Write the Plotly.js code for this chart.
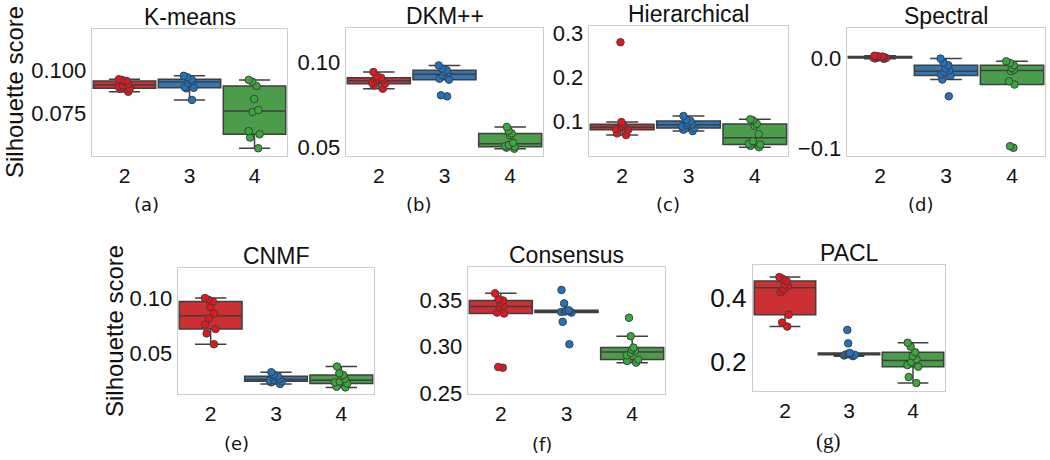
<!DOCTYPE html>
<html>
<head>
<meta charset="utf-8">
<script src="https://cdn.plot.ly/plotly-3.0.1.min.js"></script>
<style>
html,body{margin:0;padding:0;background:#fff;}
#chart{width:1050px;height:460px;}
</style>
</head>
<body>
<div id="chart"></div>
<script>
// ---------- data (silhouette scores per number of clusters) ----------
const clusterCounts = ['2', '3', '4'];
const panelTitles = ['K-means', 'DKM++', 'Hierarchical', 'Spectral', 'CNMF', 'Consensus', 'PACL'];
const panelLabels = ['(a)', '(b)', '(c)', '(d)', '(e)', '(f)', '(g)'];
const yTitle = 'Silhouette score';

const kmeans2 = [0.0946, 0.0942, 0.0936, 0.0934, 0.0916, 0.0910, 0.0903, 0.0893, 0.0890, 0.0873];
const kmeans3 = [0.0966, 0.0958, 0.0946, 0.0943, 0.0935, 0.0925, 0.0900, 0.0896, 0.0893, 0.0826];
const kmeans4 = [0.0942, 0.0932, 0.0907, 0.0831, 0.0767, 0.0756, 0.0645, 0.0626, 0.0607, 0.0545];

const dkm2 = [0.0941, 0.0916, 0.0908, 0.0898, 0.0892, 0.0888, 0.0878, 0.0872, 0.0862, 0.0843];
const dkm3 = [0.0980, 0.0961, 0.0951, 0.0941, 0.0935, 0.0922, 0.0902, 0.0896, 0.0804, 0.0798];
const dkm4 = [0.0618, 0.0595, 0.0580, 0.0570, 0.0525, 0.0512, 0.0506, 0.0502, 0.0496, 0.0490];

const hier2 = [0.2790, 0.0977, 0.0924, 0.0878, 0.0863, 0.0850, 0.0820, 0.0800, 0.0720, 0.0680];
const hier3 = [0.1114, 0.1030, 0.1000, 0.0954, 0.0920, 0.0910, 0.0878, 0.0840, 0.0802, 0.0771];
const hier4 = [0.1038, 0.1015, 0.0935, 0.0890, 0.0700, 0.0540, 0.0481, 0.0466, 0.0435, 0.0405];

const spec2 = [0.0025, 0.0020, 0.0015, 0.0012, 0.0010, 0.0005, 0.0003, 0.0000, -0.0005, -0.0010];
const spec3 = [-0.0007, -0.0056, -0.0081, -0.0118, -0.0137, -0.0159, -0.0185, -0.0196, -0.0240, -0.0426];
const spec4 = [-0.0037, -0.0056, -0.0081, -0.0111, -0.0130, -0.0148, -0.0259, -0.0296, -0.0981, -0.0999];

const cnmf2 = [0.1000, 0.0985, 0.0969, 0.0917, 0.0860, 0.0816, 0.0760, 0.0718, 0.0678, 0.0580];
const cnmf3 = [0.0325, 0.0304, 0.0288, 0.0279, 0.0264, 0.0255, 0.0249, 0.0242, 0.0233, 0.0218];
const cnmf4 = [0.0377, 0.0316, 0.0300, 0.0290, 0.0264, 0.0240, 0.0232, 0.0222, 0.0193, 0.0187];

const cons2 = [0.3572, 0.3510, 0.3495, 0.3470, 0.3440, 0.3420, 0.3365, 0.3355, 0.2780, 0.2773];
const cons3 = [0.3608, 0.3464, 0.3390, 0.3385, 0.3380, 0.3376, 0.3372, 0.3365, 0.3266, 0.3025];
const cons4 = [0.3309, 0.3111, 0.2989, 0.2967, 0.2953, 0.2931, 0.2906, 0.2860, 0.2845, 0.2827];

const pacl2 = [0.4653, 0.4600, 0.4526, 0.4421, 0.4368, 0.4263, 0.4179, 0.3474, 0.3232, 0.3105];
const pacl3 = [0.3000, 0.2580, 0.2280, 0.2260, 0.2250, 0.2240, 0.2230, 0.2220, 0.2200, 0.2180];
const pacl4 = [0.2600, 0.2474, 0.2300, 0.2180, 0.2080, 0.2000, 0.1900, 0.1850, 0.1526, 0.1337];

// tick labels per panel
const kmeansTicks = [0.075, 0.100];
const dkmTicks = [0.05, 0.10];
const hierTicks = [0.1, 0.2, 0.3];
const specTicks = [-0.1, 0.0];
const cnmfTicks = [0.05, 0.10];
const consTicks = [0.25, 0.30, 0.35];
const paclTicks = [0.2, 0.4];

// ---------- styling / layout ----------
const W = 1050, H = 460;
const FONT = 'Liberation Sans, Arial, Helvetica, sans-serif';
const boxFill = ['#cd3032', '#3376b4', '#4b9c4b'];
const pointFill = ['#e8161b', '#1d74c4', '#37ab3a'];
const edge = '#3f3f3f';

const panels = [
  {data: [kmeans2, kmeans3, kmeans4], box: [92, 287, 29, 156], range: [0.0500, 0.1238], ticks: kmeansTicks, fmt: '.3f', lab: [146, 204], tf: 22},
  {data: [dkm2, dkm3, dkm4], box: [346, 543, 28, 156], range: [0.0447, 0.1200], ticks: dkmTicks, fmt: '.2f', lab: [418, 204], tf: 22},
  {data: [hier2, hier3, hier4], box: [589, 788, 26, 156], range: [0.0205, 0.316], ticks: hierTicks, fmt: '.1f', lab: [668, 204], tf: 22},
  {data: [spec2, spec3, spec4], box: [847, 1045, 28, 156], range: [-0.109, 0.0333], ticks: specTicks, fmt: '.1f', lab: [920, 204], tf: 22},
  {data: [cnmf2, cnmf3, cnmf4], box: [178, 374, 268, 394], range: [0.0127, 0.1273], ticks: cnmfTicks, fmt: '.2f', lab: [237, 443], tf: 22},
  {data: [cons2, cons3, cons4], box: [468, 665, 267, 394], range: [0.249, 0.3855], ticks: consTicks, fmt: '.2f', lab: [542, 444], tf: 22},
  {data: [pacl2, pacl3, pacl4], box: [753, 945, 265, 391], range: [0.109, 0.503], ticks: paclTicks, fmt: '.1f', lab: [828, 441], tf: 26}
];

const traces = [];
const layout = {
  width: W, height: H,
  margin: {l: 0, r: 0, t: 0, b: 0},
  paper_bgcolor: '#ffffff', plot_bgcolor: '#ffffff',
  showlegend: false,
  boxmode: 'overlay',
  boxgap: 0.04,
  boxgroupgap: 0,
  font: {family: FONT, color: '#111111'},
  annotations: []
};

panels.forEach((p, i) => {
  const n = i + 1;
  const xa = n === 1 ? 'x' : 'x' + n;
  const ya = n === 1 ? 'y' : 'y' + n;
  const [l, r, t, b] = p.box;
  p.data.forEach((vals, g) => {
    traces.push({
      type: 'box',
      x: vals.map(() => clusterCounts[g]),
      y: vals,
      xaxis: xa, yaxis: ya,
      boxpoints: 'all', pointpos: 0, jitter: 0.25,
      quartilemethod: 'inclusive',
      fillcolor: boxFill[g],
      line: {color: edge, width: 1.5},
      whiskerwidth: 0.5,
      marker: {color: pointFill[g], size: 7.5, line: {color: edge, width: 1}},
      hoverinfo: 'y'
    });
  });
  layout['xaxis' + (n === 1 ? '' : n)] = {
    domain: [l / W, r / W], anchor: ya,
    type: 'category', categoryarray: clusterCounts, categoryorder: 'array',
    range: [-0.5, 2.5],
    showgrid: false, zeroline: false, showline: true, mirror: true,
    linecolor: '#cccccc', linewidth: 1.3, ticks: '',
    tickfont: {family: FONT, size: 21, color: '#111111'},
    fixedrange: true
  };
  layout['yaxis' + (n === 1 ? '' : n)] = {
    domain: [1 - b / H, 1 - t / H], anchor: xa,
    range: p.range,
    tickvals: p.ticks, tickformat: p.fmt,
    showgrid: false, zeroline: false, showline: true, mirror: true,
    linecolor: '#cccccc', linewidth: 1.3, ticks: '',
    tickfont: {family: FONT, size: p.tf, color: '#111111'},
    fixedrange: true
  };
  // panel title
  layout.annotations.push({
    text: panelTitles[i], xref: 'paper', yref: 'paper',
    x: (l + r) / 2 / W, y: 1 - t / H, xanchor: 'center', yanchor: 'bottom',
    yshift: -3,
    showarrow: false, font: {family: FONT, size: 23, color: '#111111'}
  });
  // subplot label
  layout.annotations.push({
    text: panelLabels[i], xref: 'paper', yref: 'paper',
    x: p.lab[0] / W, y: 1 - p.lab[1] / H, xanchor: 'center', yanchor: 'middle',
    showarrow: false,
    font: {family: i === 6 ? 'Liberation Serif, serif' : 'DejaVu Sans, sans-serif', size: i === 6 ? 21 : 18, color: '#111111'}
  });
});

// y-axis titles
[[15, 92], [114, 331]].forEach(([cx, cy]) => {
  layout.annotations.push({
    text: yTitle, xref: 'paper', yref: 'paper',
    x: cx / W, y: 1 - cy / H, xanchor: 'center', yanchor: 'middle',
    textangle: -90, showarrow: false,
    font: {family: FONT, size: 24, color: '#111111'}
  });
});

Plotly.newPlot('chart', traces, layout, {staticPlot: true, displayModeBar: false});
</script>
</body>
</html>
